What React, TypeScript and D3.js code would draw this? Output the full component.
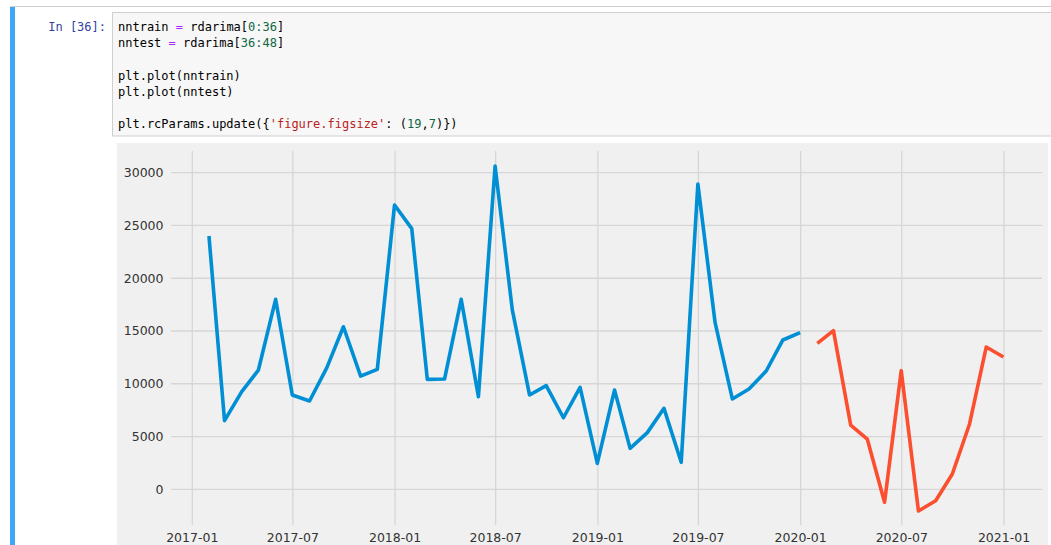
import React from 'react';
import * as d3 from 'd3';

// monthly series, month-end dates
const trainStart = '2017-01';
const testStart = '2020-01';

const trainValues = [
  24000, 6500, 9250, 11300, 18000, 8930, 8370, 11500, 15400, 10730, 11370, 26940,
  24700, 10420, 10450, 18000, 8780, 30630, 17000, 8940, 9820, 6780, 9660, 2460,
  9410, 3880, 5370, 7670, 2560, 28930, 15790, 8560, 9500, 11210, 14150, 14840,
];
const testValues = [13830, 15030, 6090, 4750, -1230, 11240, -2050, -1080, 1450, 6190, 13480, 12540];

const yTicks = [0, 5000, 10000, 15000, 20000, 25000, 30000];
const xTickLabels = ['2017-01', '2017-07', '2018-01', '2018-07', '2019-01', '2019-07', '2020-01', '2020-07', '2021-01'];

const codeLines: { t: string; c: string }[][] = [
  [{ t: 'nntrain ', c: '#000' }, { t: '=', c: '#aa22ff' }, { t: ' rdarima[', c: '#000' }, { t: '0:36', c: '#116644' }, { t: ']', c: '#000' }],
  [{ t: 'nntest ', c: '#000' }, { t: '=', c: '#aa22ff' }, { t: ' rdarima[', c: '#000' }, { t: '36:48', c: '#116644' }, { t: ']', c: '#000' }],
  [],
  [{ t: 'plt.plot(nntrain)', c: '#000' }],
  [{ t: 'plt.plot(nntest)', c: '#000' }],
  [],
  [
    { t: 'plt.rcParams.update({', c: '#000' },
    { t: "'figure.figsize'", c: '#ba2121' },
    { t: ': (', c: '#000' },
    { t: '19', c: '#116644' },
    { t: ',', c: '#000' },
    { t: '7', c: '#116644' },
    { t: ')})', c: '#000' },
  ],
];

const parseMonth = d3.utcParse('%Y-%m');
const monthEnds = (start: string, n: number) => {
  const s = parseMonth(start) as Date;
  return d3.range(n).map(i => d3.utcDay.offset(d3.utcMonth.offset(s, i + 1), -1));
};

const W = 1051;
const H = 545;
const ax = { left: 171, right: 1042, top: 151, bottom: 525 };

export default function App() {
  const x = d3.scaleUtc()
    .domain([parseMonth('2017-01') as Date, parseMonth('2021-01') as Date])
    .range([192.3, 1004]);
  const y = d3.scaleLinear().domain([0, 30000]).range([489.3, 172.7]);

  const trainDates = monthEnds(trainStart, trainValues.length);
  const testDates = monthEnds(testStart, testValues.length);

  const line = d3.line<[Date, number]>()
    .x(d => x(d[0]))
    .y(d => y(d[1]));

  const trainPath = line(trainDates.map((d, i) => [d, trainValues[i]]));
  const testPath = line(testDates.map((d, i) => [d, testValues[i]]));

  const mono = '"DejaVu Sans Mono", monospace';
  const sans = '"DejaVu Sans", sans-serif';

  return (
    <svg width={W} height={H} style={{ position: 'absolute', left: 0, top: 0, background: '#fff' }}>
      {/* notebook cell */}
      <line x1={10} x2={W} y1={6.5} y2={6.5} stroke="#cfcfcf" />
      <rect x={10} y={7} width={5} height={H} fill="#42a5f5" />
      <rect x={112.5} y={12.5} width={W} height={123.5} fill="#f7f7f7" stroke="#cfcfcf" />
      <text x={106} y={31} textAnchor="end" fontFamily={mono} fontSize={12} fill="#303f9f">In [36]:</text>
      {codeLines.map((ln, i) => (
        <text key={i} x={118} y={31 + i * 16.2} fontFamily={mono} fontSize={12} xmlSpace="preserve">
          {ln.map((s, j) => <tspan key={j} fill={s.c}>{s.t}</tspan>)}
        </text>
      ))}

      {/* figure */}
      <rect x={117} y={143} width={931} height={H - 143} fill="#f0f0f0" />
      {xTickLabels.map(l => {
        const xx = x(parseMonth(l) as Date);
        return (
          <g key={l}>
            <line x1={xx} x2={xx} y1={ax.top} y2={ax.bottom} stroke="#d6d6d6" strokeWidth={1.3} />
            <text x={xx} y={541.5} textAnchor="middle" fontFamily={sans} fontSize={12.5} fill="#333">{l}</text>
          </g>
        );
      })}
      {yTicks.map(t => (
        <g key={t}>
          <line x1={ax.left} x2={ax.right} y1={y(t)} y2={y(t)} stroke="#d6d6d6" strokeWidth={1.3} />
          <text x={163.5} y={y(t)} dy="0.35em" textAnchor="end" fontFamily={sans} fontSize={12.5} fill="#333">{t}</text>
        </g>
      ))}
      <path d={trainPath || ''} fill="none" stroke="#008fd5" strokeWidth={3.6} strokeLinejoin="round" />
      <path d={testPath || ''} fill="none" stroke="#fc4f30" strokeWidth={3.6} strokeLinejoin="round" />
    </svg>
  );
}
